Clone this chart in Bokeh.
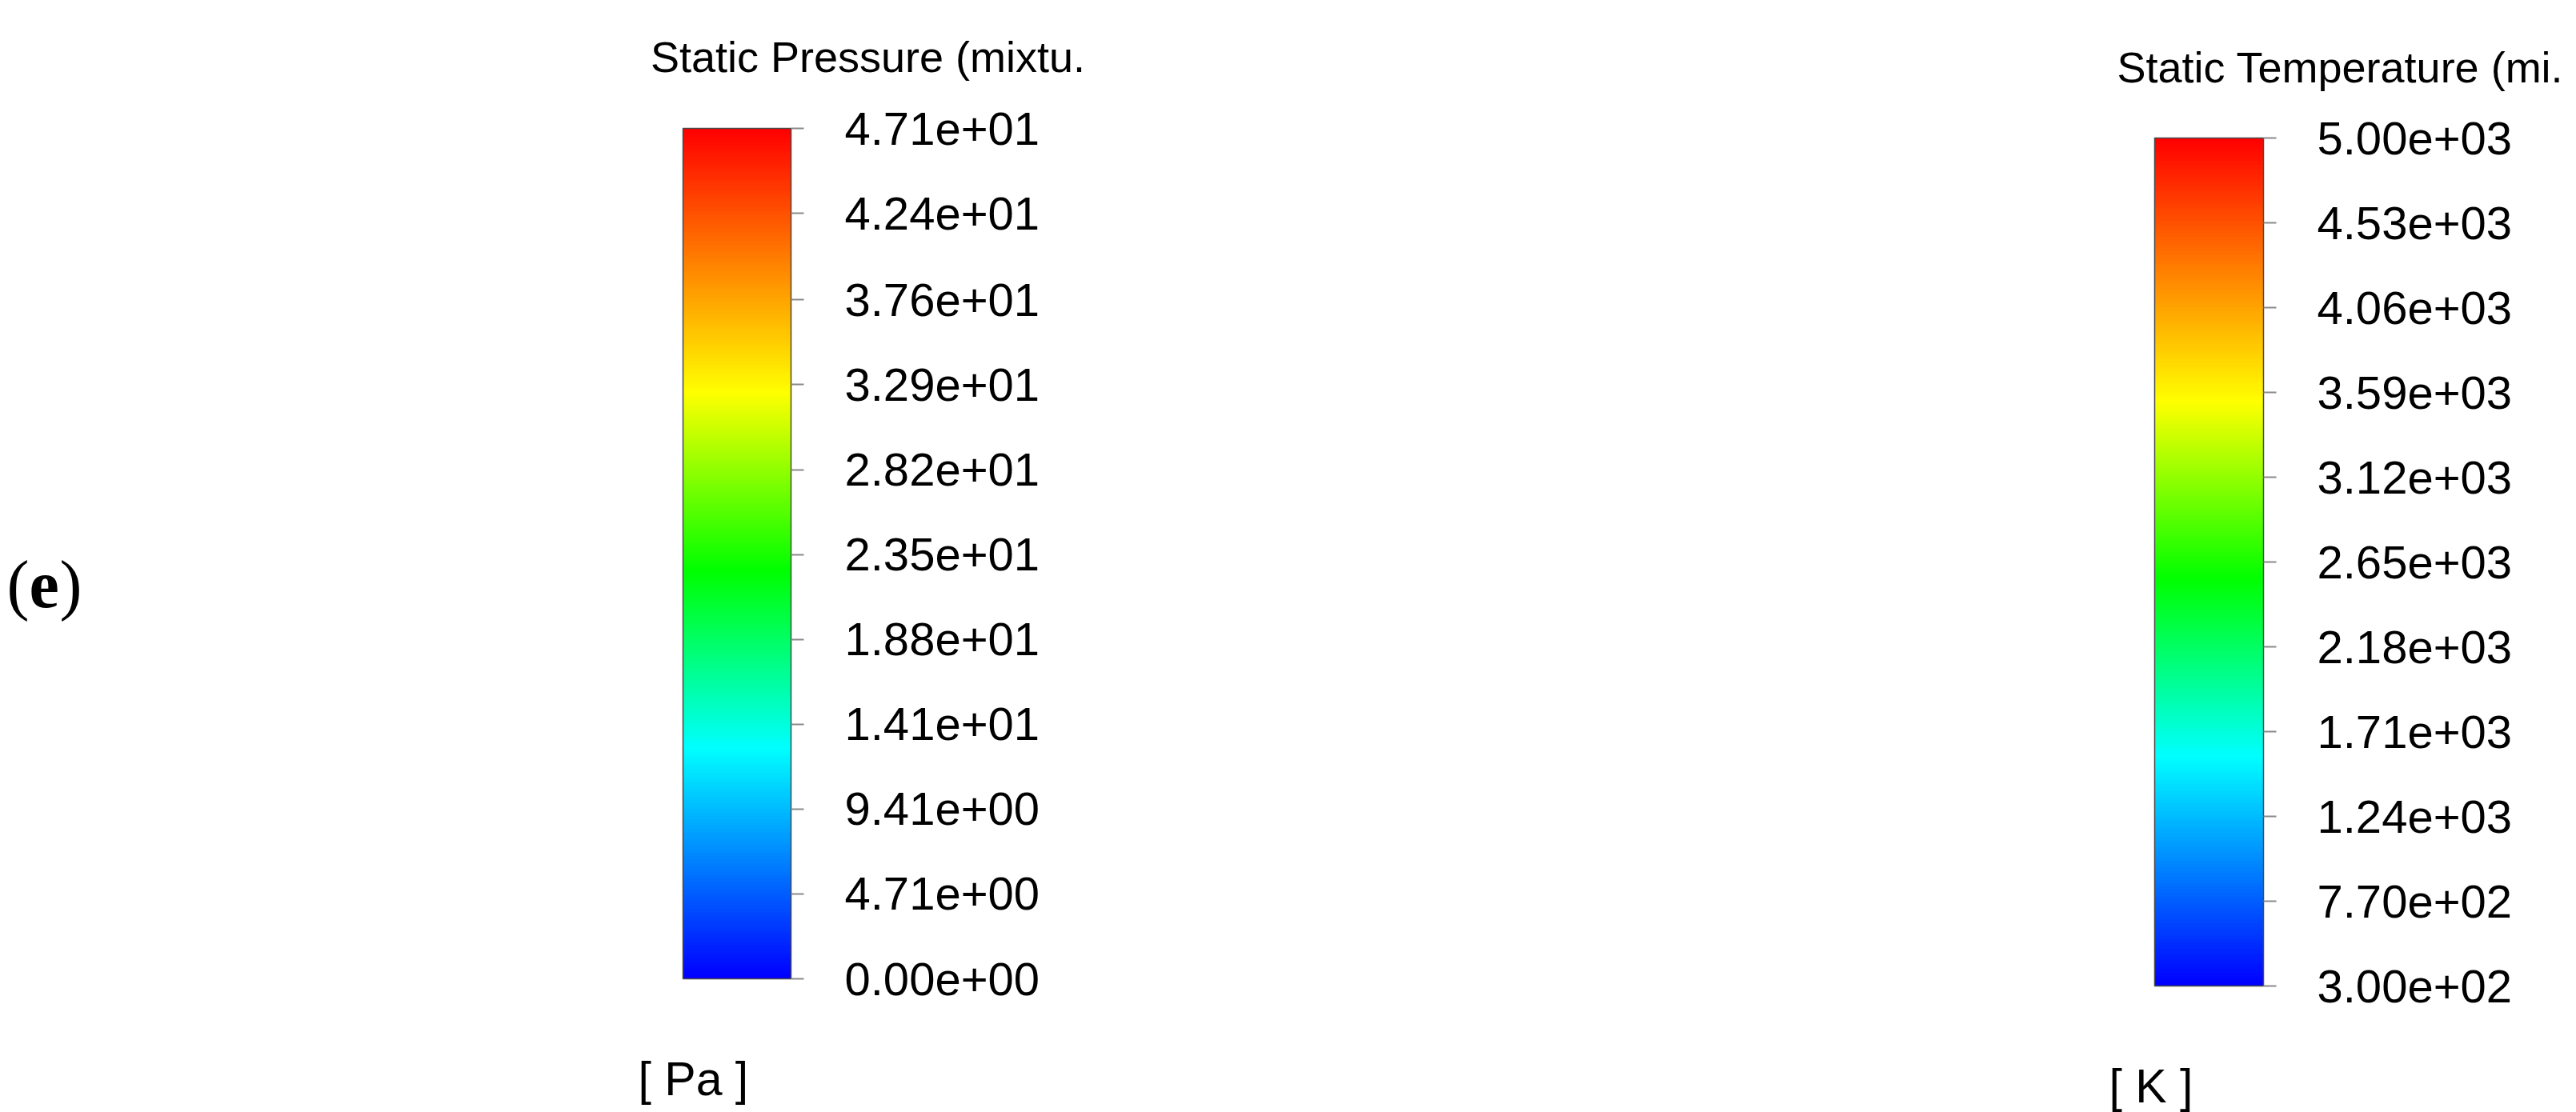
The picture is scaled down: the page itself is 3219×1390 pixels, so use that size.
import colorsys
from bokeh.plotting import figure
from bokeh.models import (ColorBar, LinearColorMapper, FixedTicker,
                          CustomJSTickFormatter, Label, Range1d)
from bokeh.embed import file_html
from bokeh.resources import INLINE

# ---------------- data ----------------
pressure_ticks = [0.0, 4.71, 9.41, 14.1, 18.8, 23.5, 28.2, 32.9, 37.6, 42.4, 47.1]
temperature_ticks = [300, 770, 1240, 1710, 2180, 2650, 3120, 3590, 4060, 4530, 5000]
pressure_title = "Static Pressure (mixtu."
temperature_title = "Static Temperature (mi."
pressure_unit = "[ Pa ]"
temperature_unit = "[ K ]"
panel_tag = "e"

# ---------------- style ----------------
W, H = 3219, 1390
FONT = "Liberation Sans"
SERIF = "Liberation Serif"

# hue anchors (fraction of bar, hue in degrees): blue -> cyan -> green -> yellow -> red
HUE_STOPS = [(0.0, 240.0), (0.27, 180.0), (0.48, 120.0), (0.69, 60.0), (1.0, 0.0)]


def rainbow(n=256):
    cols = []
    for i in range(n):
        f = i / (n - 1)
        for (f0, h0), (f1, h1) in zip(HUE_STOPS[:-1], HUE_STOPS[1:]):
            if f0 <= f <= f1:
                h = h0 + (h1 - h0) * (f - f0) / (f1 - f0)
                break
        r, g, b = colorsys.hsv_to_rgb(h / 360.0, 1.0, 1.0)
        cols.append("#%02x%02x%02x" % (round(r * 255), round(g * 255), round(b * 255)))
    return cols


PALETTE = rainbow()

fmt = CustomJSTickFormatter(code="""
    const s = tick.toExponential(2);
    return s.replace(/e([+-])(\\d)$/, 'e$10$2');
""")

p = figure(width=W, height=H, output_backend="svg", toolbar_location=None,
           x_range=Range1d(0, W), y_range=Range1d(0, H),
           x_axis_type=None, y_axis_type=None, min_border=0)
p.grid.visible = False
p.outline_line_color = None
p.background_fill_color = "white"
p.border_fill_color = "white"


def make_bar(ticks, x, bottom, w, h):
    mapper = LinearColorMapper(palette=PALETTE, low=ticks[0], high=ticks[-1])
    cb = ColorBar(color_mapper=mapper, ticker=FixedTicker(ticks=ticks),
                  formatter=fmt, orientation="vertical",
                  width=w, height=h, location=(x, bottom),
                  padding=0, margin=0, title=None,
                  background_fill_alpha=0, border_line_color=None,
                  bar_line_color="#4a4a4a", bar_line_width=1.5,
                  major_tick_in=0, major_tick_out=16,
                  major_tick_line_color="#8a8a8a", major_tick_line_width=2,
                  minor_tick_line_color=None, label_standoff=51,
                  major_label_text_font=FONT,
                  major_label_text_font_size="58px",
                  major_label_text_color="black")
    p.add_layout(cb)


make_bar(pressure_ticks, 853, H - 1223, 135, 1063)
make_bar(temperature_ticks, 2692, H - 1232, 136, 1060)


def lab(text, x, y, size, align="left", font=FONT, style="normal"):
    p.add_layout(Label(x=x, y=y, text=text, text_font=font,
                       text_font_size=size, text_align=align,
                       text_baseline="alphabetic", text_color="black",
                       text_font_style=style))


lab(pressure_title, 1084, H - 70, "54px", align="center")
lab(temperature_title, 2924, H - 83, "54px", align="center")
lab(pressure_unit, 797, H - 1348, "59px")
lab(temperature_unit, 2635, H - 1357, "59px")

lab("(", 8, H - 730, "84px", font=SERIF)
lab(panel_tag, 36, H - 730, "84px", font=SERIF, style="bold")
lab(")", 74, H - 730, "84px", font=SERIF)

open("out.html", "w").write(file_html(p, INLINE))
